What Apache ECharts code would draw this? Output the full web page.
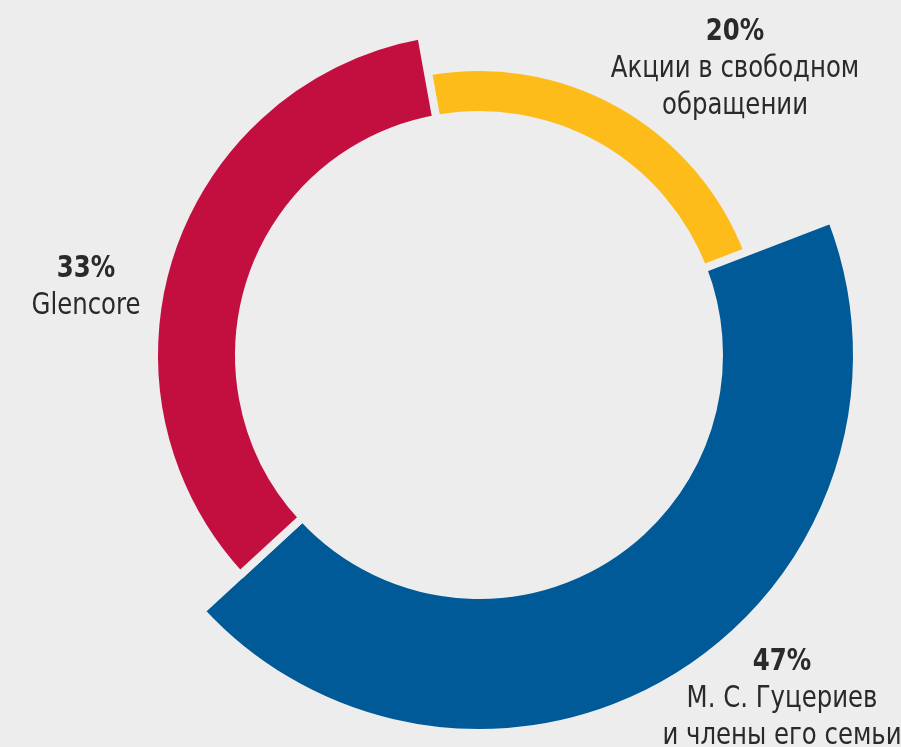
<!DOCTYPE html>
<html>
<head>
<meta charset="utf-8">
<script src="https://cdn.jsdelivr.net/npm/echarts@6/dist/echarts.min.js"></script>
<style>
  html, body { margin: 0; padding: 0; background: #EDEDED; }
  #chart { width: 901px; height: 747px; }
</style>
</head>
<body>
<div id="chart"></div>
<script>
// Data (clockwise from the top)
const categories = ['Акции в свободном обращении', 'М. С. Гуцериев и члены его семьи', 'Glencore'];
const sliceValues = [22, 44, 34];           // angular share as drawn
const shareLabels = ['20%', '47%', '33%'];  // printed labels
const nameLines = [['Акции в свободном', 'обращении'], ['М. С. Гуцериев', 'и члены его семьи'], ['Glencore']];

const colors = ['#FDBC19', '#005A97', '#C20F40'];
const outerRadius = [288, 378, 325];
const innerRadius = 240;
const center = [479, 355];
const bg = '#EDEDED';
const FONT = '"Liberation Sans Narrow", "DejaVu Sans Condensed", "Roboto Condensed", Arial, sans-serif';

const chart = echarts.init(document.getElementById('chart'), null, { renderer: 'canvas' });

const series = categories.map((c, si) => ({
  type: 'pie',
  center: center,
  radius: [innerRadius, outerRadius[si]],
  startAngle: 100.25,
  clockwise: true,
  silent: true,
  animation: false,
  label: { show: false },
  labelLine: { show: false },
  emphasis: { disabled: true },
  z: 2,
  data: categories.map((name, i) => ({
    name: name,
    value: sliceValues[i],
    itemStyle: i === si
      ? { color: colors[i], borderColor: bg, borderWidth: 8, borderJoin: 'bevel' }
      : { color: 'rgba(0,0,0,0)', borderWidth: 0 }
  }))
}));

const labelPos = [
  { x: 735, y: 13 },
  { x: 782, y: 643 },
  { x: 86, y: 250 }
];

const graphics = categories.map((c, i) => ({
  type: 'text',
  x: labelPos[i].x,
  y: labelPos[i].y,
  scaleX: 0.875,
  silent: true,
  style: {
    text: ['{p|' + shareLabels[i] + '}'].concat(nameLines[i].map(l => '{n|' + l + '}')).join('\n'),
    align: 'center',
    verticalAlign: 'top',
    rich: {
      p: { fontFamily: FONT, fontSize: 31, fontWeight: 'bold', lineHeight: 37, fill: '#2A2A2A', align: 'center' },
      n: { fontFamily: FONT, fontSize: 31, lineHeight: 37, fill: '#2A2A2A', align: 'center' }
    }
  }
}));

chart.setOption({
  backgroundColor: bg,
  animation: false,
  series: series,
  graphic: graphics
});
</script>
</body>
</html>
